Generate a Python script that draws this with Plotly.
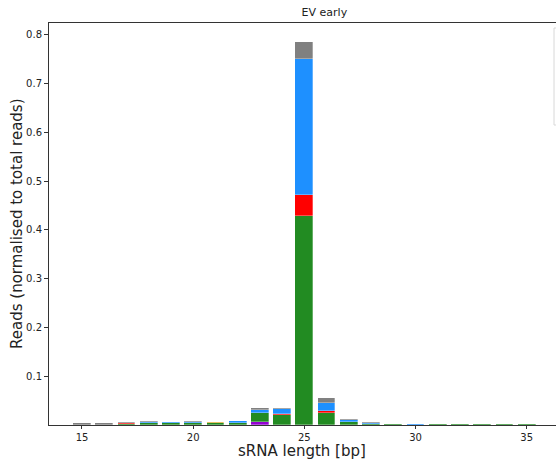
import plotly.graph_objects as go

lengths = list(range(15, 36))
purple = [0, 0, 0, 0, 0, 0, 0, 0, 0.007, 0, 0, 0, 0, 0, 0, 0, 0, 0, 0, 0, 0]
green = [0, 0, 0.003, 0.004, 0.005, 0.005, 0.004, 0.005, 0.017, 0.021, 0.429, 0.025, 0.007, 0.003, 0.003, 0.001, 0.002, 0.002, 0.002, 0.002, 0.002]
orange = [0, 0, 0, 0, 0, 0, 0.002, 0, 0, 0, 0, 0, 0, 0, 0, 0, 0, 0, 0, 0, 0]
red = [0, 0, 0.002, 0, 0, 0, 0, 0, 0.001, 0.002, 0.042, 0.004, 0, 0, 0, 0, 0, 0, 0, 0, 0]
blue = [0, 0, 0, 0.003, 0.002, 0.002, 0, 0.003, 0.005, 0.010, 0.279, 0.017, 0.004, 0.002, 0, 0.002, 0, 0, 0, 0, 0]
gray = [0.005, 0.005, 0.001, 0.001, 0, 0.001, 0, 0.001, 0.004, 0.002, 0.036, 0.009, 0.0015, 0.001, 0, 0, 0, 0, 0, 0, 0]

series = [
    ("purple", purple, "#9400D3"),
    ("green", green, "#228B22"),
    ("orange", orange, "#DAA520"),
    ("red", red, "#FF0000"),
    ("blue", blue, "#1E90FF"),
    ("gray", gray, "#808080"),
]

W, H = 556, 466
L, T, B = 49, 23, 41
PW, PH = W - L, H - T - B

fig = go.Figure()
for name, vals, col in series:
    fig.add_trace(go.Bar(x=lengths, y=vals, name=name, width=0.8,
                         marker=dict(color=col, line=dict(color="rgba(255,255,255,0.6)", width=0.5)),
                         showlegend=False))

fig.update_layout(
    barmode="stack",
    width=W, height=H,
    margin=dict(l=L, r=0, t=T, b=B, autoexpand=False),
    paper_bgcolor="white", plot_bgcolor="white",
    font=dict(family="DejaVu Sans", color="#222", size=10),
    title=dict(text="EV early", x=302 / W, xanchor="center", xref="paper",
               y=1 - 12 / H, yref="container", yanchor="middle",
               font=dict(size=11, color="#222")),
    bargap=0,
)
fig.update_xaxes(range=[13.516, 36.32], tickvals=[15, 20, 25, 30, 35], automargin=False,
                 showline=True, linecolor="#333", linewidth=1, mirror=True,
                 ticks="outside", ticklen=3, tickcolor="#333", showgrid=False, zeroline=False)
fig.update_yaxes(range=[0, 0.8245], tickvals=[0.1, 0.2, 0.3, 0.4, 0.5, 0.6, 0.7, 0.8],
                 tickformat=".1f", automargin=False,
                 showline=True, linecolor="#333", linewidth=1,
                 ticks="outside", ticklen=4, tickcolor="#333", showgrid=False, zeroline=False)

fig.add_annotation(text="sRNA length [bp]", xref="paper", yref="paper",
                   x=(302 - L) / PW, y=-(451 - (T + PH)) / PH, xanchor="center", yanchor="middle",
                   showarrow=False, font=dict(size=15, color="#222"))
fig.add_annotation(text="Reads (normalised to total reads)", xref="paper", yref="paper",
                   x=-(L - 17) / PW, y=0.5, xanchor="center", yanchor="middle", textangle=-90,
                   showarrow=False, font=dict(size=15, color="#222"))

# partially visible legend frame at the right edge
fig.add_shape(type="rect", xref="paper", yref="paper",
              x0=(554 - L) / PW, x1=1.05, y0=(T + PH - 125) / PH, y1=(T + PH - 28) / PH,
              line=dict(color="#d8d8d8", width=1), fillcolor="rgba(255,255,255,0.8)", layer="above")

fig.write_html("out.html", config={"displayModeBar": False},
               post_script="document.body.style.margin='0';document.body.style.overflow='hidden';")
